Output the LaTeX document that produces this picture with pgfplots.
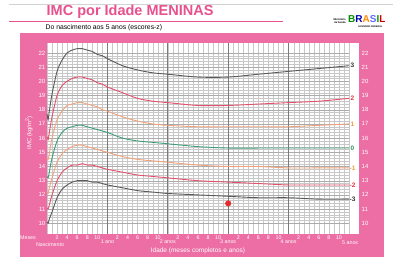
\documentclass[border=0pt]{standalone}
\usepackage{fontspec}
\setmainfont{Liberation Sans}
\usepackage{pgfplots}
\pgfplotsset{compat=1.18}
\definecolor{bgpink}{HTML}{EC6EA5}
\definecolor{titlepink}{HTML}{E8508E}
\definecolor{zthree}{HTML}{5A5A5A}
\definecolor{ztwo}{HTML}{E4506C}
\definecolor{zone}{HTML}{F2A27A}
\definecolor{zzero}{HTML}{3E9E78}
\definecolor{lzthree}{HTML}{333333}
\definecolor{lztwo}{HTML}{E6323E}
\definecolor{lzone}{HTML}{F29A3A}
\definecolor{lzzero}{HTML}{2E9A5A}
\definecolor{gridminor}{HTML}{C8C8C8}
\definecolor{gridmid}{HTML}{ABABAB}
\definecolor{gridmajor}{HTML}{7A7A7A}
\definecolor{dotred}{HTML}{E52B2B}

\pgfplotstableread{
m     p3    p2    p1    z0    m1    m2    m3
0     17.7  16.1  14.6  13.3  12.2  11.1  10.1
0.23  17.3  15.9  14.5  13.2  12.1  11.0  10.0
0.46  17.9  16.4  14.9  13.6  12.5  11.3  10.3
1     19.1  17.5  16.0  14.6  13.2  12.0  10.8
2     20.7  19.0  17.3  15.8  14.3  13.0  11.8
3     21.5  19.7  17.9  16.4  14.9  13.6  12.4
4     22.0  20.0  18.3  16.7  15.2  13.9  12.7
5     22.2  20.2  18.4  16.8  15.4  14.1  12.9
6     22.3  20.3  18.5  16.9  15.5  14.1  13.0
7     22.3  20.3  18.5  16.9  15.5  14.2  13.0
8     22.2  20.2  18.4  16.8  15.4  14.1  13.0
9     22.1  20.1  18.3  16.7  15.3  14.1  12.9
10    21.9  19.9  18.2  16.6  15.2  14.0  12.9
11    21.8  19.8  18.0  16.5  15.1  13.9  12.8
12    21.6  19.6  17.9  16.4  15.0  13.8  12.7
15    21.1  19.2  17.5  16.0  14.7  13.6  12.5
18    20.8  18.8  17.2  15.8  14.5  13.4  12.3
21    20.6  18.6  17.0  15.7  14.4  13.3  12.2
24    20.5  18.5  16.9  15.6  14.3  13.2  12.1
30    20.3  18.3  16.8  15.4  14.1  13.0  12.0
36    20.3  18.3  16.8  15.3  14.0  12.9  11.9
42    20.5  18.4  16.8  15.3  14.0  12.8  11.8
48    20.7  18.5  16.8  15.3  13.9  12.7  11.8
54    20.9  18.6  16.9  15.3  13.9  12.7  11.7
60    21.1  18.8  17.0  15.3  13.9  12.7  11.7
}\imc

\begin{document}
\begin{tikzpicture}
\fill[white] (0pt,0pt) rectangle (400pt,-262pt);
\fill[gray!35] (9pt,-4.5pt) rectangle (393pt,-5.5pt);
\fill[titlepink] (9pt,-21pt) rectangle (283pt,-22.4pt);
\node[anchor=west, text=titlepink, font=\fontsize{14.5}{16}\selectfont\bfseries, inner sep=0pt] at (46.5pt,-12pt) {IMC por Idade MENINAS};
\node[anchor=west, font=\fontsize{6.8}{8}\selectfont, inner sep=0pt] at (45.5pt,-27.5pt) {Do nascimento aos 5 anos (escores-z)};
% logo
\node[anchor=east, font=\fontsize{2.6}{3}\selectfont\bfseries, align=right, inner sep=0pt] at (346pt,-21pt) {Ministério\\da Saúde};
\node[anchor=west, font=\fontsize{10}{11}\selectfont\bfseries, inner sep=0pt] at (348pt,-19.5pt) {\textcolor{green!55!black}{B}\textcolor{blue!70!black}{R}\textcolor{orange!90!yellow}{A}\textcolor{blue!60}{S}\textcolor{green!60!black}{I}\textcolor{red!80!black}{L}};
\node[anchor=west, font=\fontsize{2.4}{3}\selectfont\bfseries, inner sep=0pt] at (358pt,-26.5pt) {GOVERNO FEDERAL};
% pink panel
\fill[bgpink] (20pt,-33pt) rectangle (384pt,-257pt);
\fill[white] (349pt,-43pt) rectangle (359pt,-234.5pt);
\node[rotate=90, text=white, font=\fontsize{6}{7}\selectfont, inner sep=0pt] at (29pt,-133pt) {IMC (kg/m\textsuperscript{2})};
\node[anchor=east, text=white, font=\fontsize{5.3}{6}\selectfont, inner sep=0pt] at (36pt,-238pt) {Meses};
\node[text=white, font=\fontsize{5.3}{6}\selectfont, inner sep=0pt] at (50pt,-244.5pt) {Nascimento};
\begin{axis}[
  at={(47pt,-234.5pt)}, anchor=south west,
  scale only axis, width=302pt, height=191.5pt,
  xmin=0, xmax=60, ymin=9.21, ymax=22.70,
  axis background/.style={fill=white},
  axis line style={draw=none},
  clip=false,
  xtick={2,4,...,58},
  xticklabels={2,4,6,8,10,{},2,4,6,8,10,{},2,4,6,8,10,{},2,4,6,8,10,{},2,4,6,8,10},
  minor xtick={0,1,...,60},
  xminorgrids=true,
  extra x ticks={12,24,36,48},
  extra x tick labels={1 ano,2 anos,3 anos,4 anos},
  extra x tick style={grid=major, major grid style={gridmajor, line width=0.6pt}, xticklabel style={yshift=-4.6pt}},
  ytick={10,...,22},
  minor y tick num=4,
  ymajorgrids=true, yminorgrids=true,
  major grid style={gridmid, line width=0.35pt},
  minor grid style={gridminor, line width=0.25pt},
  major tick length=0pt, minor tick length=0pt,
  tick label style={text=white},
  yticklabel style={font=\fontsize{6}{7}\selectfont, inner sep=1.5pt},
  xticklabel style={font=\fontsize{5.3}{6}\selectfont, inner sep=1pt},
  /pgf/number format/assume math mode=true,
  xlabel={Idade (meses completos e anos)},
  xlabel style={text=white, font=\fontsize{6.5}{7}\selectfont, at={(axis description cs:0.5,0)}, anchor=center, yshift=-16.5pt},
]
\addplot[zthree, line width=0.9pt, smooth] table[x=m, y=p3] {\imc};
\addplot[ztwo, line width=0.9pt, smooth] table[x=m, y=p2] {\imc};
\addplot[zone, line width=0.9pt, smooth] table[x=m, y=p1] {\imc};
\addplot[zzero, line width=0.9pt, smooth] table[x=m, y=z0] {\imc};
\addplot[zone, line width=0.9pt, smooth] table[x=m, y=m1] {\imc};
\addplot[ztwo, line width=0.9pt, smooth] table[x=m, y=m2] {\imc};
\addplot[zthree, line width=0.9pt, smooth] table[x=m, y=m3] {\imc};
\addplot[only marks, mark=*, mark size=2.8pt, dotred] coordinates {(36,11.4)};
\node[anchor=west, text=white, font=\fontsize{5.3}{6}\selectfont, inner sep=0pt] at (axis cs:60,9.21) [yshift=-8pt, xshift=-7pt] {5 anos};
\pgfplotsinvokeforeach{10,...,22}{\node[anchor=west, text=white, font=\fontsize{6}{7}\selectfont, inner sep=0pt] at (axis cs:60,#1) [xshift=12.5pt] {#1};}
\node[anchor=west, text=lzthree, font=\fontsize{6.5}{7}\selectfont\bfseries, inner sep=0pt] at (axis cs:60,21.1) [xshift=1.5pt] {3};
\node[anchor=west, text=lztwo, font=\fontsize{6.5}{7}\selectfont\bfseries, inner sep=0pt] at (axis cs:60,18.8) [xshift=1.5pt] {2};
\node[anchor=west, text=lzone, font=\fontsize{6.5}{7}\selectfont\bfseries, inner sep=0pt] at (axis cs:60,17.0) [xshift=1.5pt] {1};
\node[anchor=west, text=lzzero, font=\fontsize{6.5}{7}\selectfont\bfseries, inner sep=0pt] at (axis cs:60,15.3) [xshift=1.5pt] {0};
\node[anchor=west, text=lzone, font=\fontsize{6.5}{7}\selectfont\bfseries, inner sep=0pt] at (axis cs:60,13.9) [xshift=0.5pt] {-1};
\node[anchor=west, text=lztwo, font=\fontsize{6.5}{7}\selectfont\bfseries, inner sep=0pt] at (axis cs:60,12.7) [xshift=0.5pt] {-2};
\node[anchor=west, text=lzthree, font=\fontsize{6.5}{7}\selectfont\bfseries, inner sep=0pt] at (axis cs:60,11.7) [xshift=0.5pt] {-3};
\end{axis}
\end{tikzpicture}
\end{document}
